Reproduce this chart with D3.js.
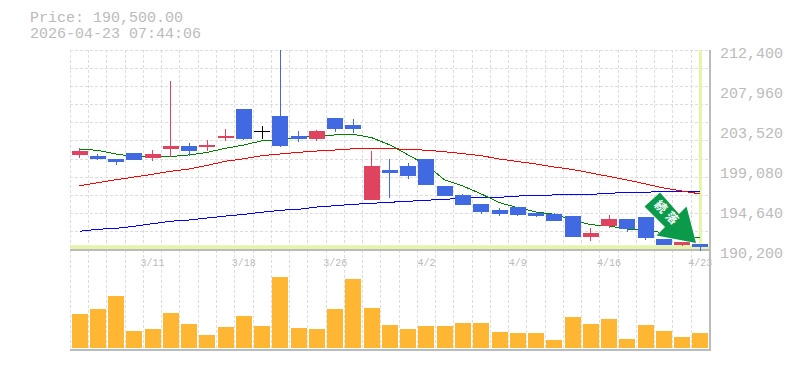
<!DOCTYPE html>
<html>
<head>
<meta charset="utf-8">
<script src="https://cdn.jsdelivr.net/npm/d3@7"></script>
<style>
  html, body { margin: 0; padding: 0; background: #fff; }
  svg { display: block; }
  text { font-family: "Liberation Mono", monospace; fill: #bbb; }
</style>
</head>
<body>
<div id="chart"></div>
<script>
const dates = ['3/5','3/6','3/9','3/10','3/11','3/12','3/13','3/16','3/17','3/18','3/19','3/20','3/23','3/24','3/26',
  '3/27','3/30','3/31','4/1','4/2','4/3','4/6','4/7','4/8','4/9','4/10','4/13','4/14','4/15','4/16','4/17','4/20','4/21','4/22','4/23'];

const opens = [200750,200630,200300,200970,200410,201410,201740,201630,202630,205850,203410,205070,202850,202520,204850,
  204080,195750,199080,199520,200300,197300,196300,195310,194640,194970,194310,194200,193970,191640,192860,193640,193860,191420,190760,190870];
const highs = [201560,200860,200300,200970,201300,208960,202080,202410,203630,205850,203960,212400,203410,203520,204850,
  204740,201190,200300,199860,200300,197300,196420,195310,194860,194970,194420,194310,193970,192640,194090,193640,193860,191420,191090,190870];
const lows = [200410,200190,199640,200190,200080,200560,200630,201190,202300,202410,202520,201630,202190,202300,203300,
  203190,195750,195970,198080,197420,196190,195200,194200,193970,193970,193860,193420,191640,191200,192640,192200,191310,190760,190640,190090];
const closes = [201190,200300,199970,200190,200860,201740,201190,201860,202850,202520,203410,201740,202520,203410,203630,
  203630,199520,198750,198410,197420,196190,195200,194420,194200,194090,193970,193420,191640,192090,193640,192530,191530,190760,191090,190500];

const maShort = [201380,201270,200860,200560,200520,200580,200750,201040,201490,201860,202330,202470,202670,202850,202970,
  203040,202670,201860,200750,199640,197970,197300,196420,195450,194900,194420,194160,193530,193010,192860,192530,192420,192090,191750,191530];
const maMid = [197340,197670,198000,198300,198600,198940,199190,199600,200050,200330,200670,200860,201040,201190,201300,
  201440,201490,201440,201380,201270,201110,200890,200670,200300,200020,199750,199410,199140,198750,198360,197970,197530,197080,196750,196420];
const maLong = [192280,192500,192610,192830,193120,193390,193530,193750,193970,194160,194390,194610,194720,194970,195120,
  195270,195380,195500,195610,195720,195830,195940,196050,196050,196190,196270,196310,196380,196380,196490,196600,196600,196720,196720,196720];

const volumes = [34,39,52,17,19,35,24,13,21,32,22,71,20,19,39,69,40,23,19,22,22,25,25,16,15,15,8,31,24,29,9,23,17,11,15];

const priceLabels = [212400,207960,203520,199080,194640,190200];
const lastPrice = 190500;
const titleLines = ['Price: 190,500.00','2026-04-23 07:44:06'];

const width = 785, height = 370;
const plotLeft = 70.4, plotRight = 709.5, plotTop = 50, priceBottom = 250, volBottom = 348, paneBottom = 350;

const svg = d3.select('#chart').append('svg').attr('width', width).attr('height', height);

const x = d3.scaleBand().domain(d3.range(dates.length)).range([plotLeft, plotRight]).paddingInner(0);
const y = d3.scaleLinear().domain([190200, 212400]).range([priceBottom, plotTop]);
const yVol = d3.scaleLinear().domain([0, 98]).range([volBottom, priceBottom]);
const cx = i => x(i) + x.bandwidth() / 2;

// grid
const gridY = d3.range(12).map(i => 190200 + i * (212400 - 190200) / 11);
const grid = svg.append('g').attr('stroke', '#ddd').attr('stroke-dasharray', '3,2').attr('shape-rendering', 'crispEdges');
grid.selectAll('line.h').data(gridY).enter().append('line').attr('class', 'h')
  .attr('x1', plotLeft).attr('x2', plotRight).attr('y1', d => y(d)).attr('y2', d => y(d));
grid.selectAll('line.v').data(d3.range(dates.length)).enter().append('line').attr('class', 'v')
  .attr('x1', d => x(d)).attr('x2', d => x(d)).attr('y1', plotTop).attr('y2', paneBottom);

// last price cross band
svg.append('line').attr('x1', plotLeft).attr('x2', plotRight).attr('y1', y(lastPrice)).attr('y2', y(lastPrice))
  .attr('stroke', '#e4f4ab').attr('stroke-width', 4);
svg.append('line').attr('x1', cx(34)).attr('x2', cx(34)).attr('y1', plotTop).attr('y2', priceBottom)
  .attr('stroke', '#e4f4ab').attr('stroke-width', 3);

// pane frame
const frame = svg.append('g').attr('stroke', '#bbb').attr('stroke-width', 1.5).attr('shape-rendering', 'crispEdges');
frame.append('line').attr('x1', plotLeft).attr('x2', plotRight + 1).attr('y1', priceBottom).attr('y2', priceBottom);
frame.append('line').attr('x1', plotLeft).attr('x2', plotRight + 1).attr('y1', paneBottom).attr('y2', paneBottom);
frame.append('line').attr('x1', plotRight + 0.5).attr('x2', plotRight + 0.5).attr('y1', plotTop).attr('y2', paneBottom);

// moving averages go under the candles
const line = d3.line().x((d, i) => cx(i)).y(d => y(d));
[[maLong, '#0000ff'], [maMid, '#ff0000'], [maShort, '#008000']].forEach(([vals, col]) => {
  svg.append('path').attr('d', line(vals)).attr('fill', 'none').attr('stroke', col).attr('stroke-width', 1)
    .attr('shape-rendering', 'crispEdges');
});

// candles
const candleColor = i => closes[i] > opens[i] ? '#e0435f' : closes[i] < opens[i] ? '#4169e1' : '#000';
const candles = svg.append('g').attr('shape-rendering', 'crispEdges');
d3.range(dates.length).forEach(i => {
  candles.append('line').attr('x1', cx(i)).attr('x2', cx(i)).attr('y1', y(highs[i])).attr('y2', y(lows[i]))
    .attr('stroke', candleColor(i)).attr('stroke-width', 1);
  const bt = y(Math.max(opens[i], closes[i])), bb = y(Math.min(opens[i], closes[i]));
  candles.append('rect').attr('x', cx(i) - 8).attr('width', 16).attr('y', bt).attr('height', Math.max(bb - bt, 1))
    .attr('fill', candleColor(i));
});

// volume
svg.append('g').selectAll('rect').data(volumes).enter().append('rect')
  .attr('x', (d, i) => cx(i) - 8).attr('width', 16)
  .attr('y', d => yVol(d)).attr('height', d => volBottom - yVol(d))
  .attr('fill', '#ffb733').attr('shape-rendering', 'crispEdges');

// price axis labels
svg.append('g').selectAll('text').data(priceLabels).enter().append('text')
  .attr('x', 720).attr('y', d => y(d) + 8).style('font-size', '15px')
  .text(d => d3.format(',')(d));

// date labels, every 5th candle
svg.append('g').selectAll('text').data(d3.range(4, dates.length, 5)).enter().append('text')
  .attr('x', d => cx(d)).attr('y', 266).attr('text-anchor', 'middle').style('font-size', '10px')
  .text(d => dates[d]);

svg.append('g').selectAll('text').data(titleLines).enter().append('text')
  .attr('x', 30).attr('y', (d, i) => 22 + i * 16).style('font-size', '15px').text(d => d);

// trend badge
const badge = svg.append('g');
badge.append('polygon')
  .attr('points', '660,192.5 644.5,206.5 665,227 656.5,235.5 696,243 686.5,206.5 679,214')
  .attr('fill', '#0a9a4a').attr('stroke', '#fff').attr('stroke-width', 1).attr('paint-order', 'stroke');
badge.append('text').attr('transform', 'translate(667,214.5) rotate(45)')
  .attr('text-anchor', 'middle').attr('dominant-baseline', 'middle')
  .style('font-family', '"Noto Sans CJK JP"').style('font-size', '12px').style('font-weight', 'bold')
  .style('letter-spacing', '4px').style('fill', '#fff')
  .text('続落');
</script>
</body>
</html>
